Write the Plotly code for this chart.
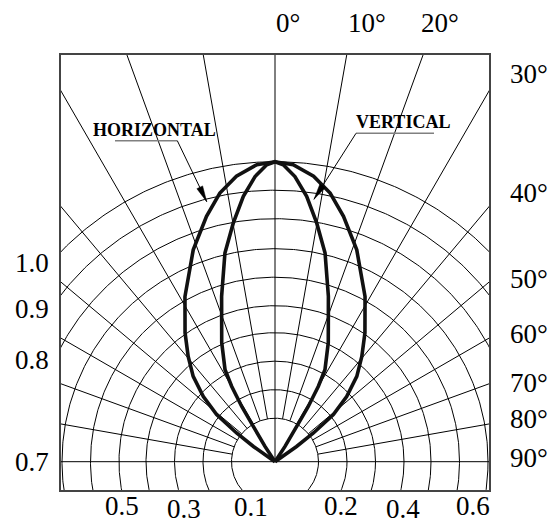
import numpy as np
import plotly.graph_objects as go

# ---------------- data ----------------
ring_radii = [0.145, 0.24, 0.335, 0.43, 0.52, 0.615, 0.71, 0.81, 0.905, 1.0]
ray_angles = [10, 20, 30, 40, 50, 60, 70, 80]          # degrees from vertical, both sides

horiz_angles = [0, 3.5, 7.7, 11.6, 15.6, 21.1, 28.6, 34.9, 39.5, 43.8, 47.7, 51.1, 53.2, 54.8, 55.0]
horiz_values = [1.0, 0.992, 0.96, 0.914, 0.849, 0.757, 0.627, 0.524, 0.455, 0.394, 0.323, 0.25, 0.16, 0.088, 0.0]

vert_angles = [0, 1.6, 4.0, 6.8, 9.9, 13.5, 17.9, 24.1, 28.5, 29.9, 31.05, 31.6, 33.2, 33.5]
vert_values = [1.0, 0.99, 0.953, 0.891, 0.808, 0.715, 0.579, 0.435, 0.349, 0.29, 0.215, 0.138, 0.061, 0.0]

series_names = ["HORIZONTAL", "VERTICAL"]
top_labels = ["0°", "10°", "20°"]
right_labels = ["30°", "40°", "50°", "60°", "70°", "80°", "90°"]
left_labels = ["1.0", "0.9", "0.8", "0.7"]
bottom_labels = ["0.5", "0.3", "0.1", "0.2", "0.4", "0.6"]

# ---------------- layout geometry (pixels) ----------------
W, H = 556, 523
FL, FR, FT, FB = 61, 489, 55, 490
OX, OY = 275, 461.7
S = 300.0  # pixels per unit

def px(xp, yp):
    return (xp - OX) / S, (OY - yp) / S

def paper(xp, yp):
    return (xp - FL) / (FR - FL), (FB - yp) / (FB - FT)

top_pos = [(287.5, 22.5), (367, 22.5), (439.7, 22.5)]
right_pos = [(508.3, 74), (508.3, 192.5), (508.3, 279), (508.3, 334), (508.3, 382.5), (508.3, 419), (508.3, 457.5)]
left_pos = [(31.7, 262.5), (31.7, 309), (31.7, 360), (31.7, 462)]
bottom_pos = [(121.7, 506), (183.7, 508.7), (250.5, 506.5), (340.7, 506), (403.3, 508.7), (473, 506)]

# annotation geometry: text centre, underline start/end, arrow tip (pixels)
ann_geo = [
    dict(text=(154.7, 129.7), ul=((115, 140.7), (177.3, 140.7)), tail=(177.3, 140.7), tip=(206.7, 201.7)),
    dict(text=(402.8, 121.7), ul=((356, 133.3), (434, 133.3)), tail=(356, 133.3), tip=(314, 199.3)),
]

FONT = "Liberation Serif, Times New Roman, serif"
fig = go.Figure()

def line(x, y, color="#000", width=1.0):
    fig.add_trace(go.Scatter(x=x, y=y, mode="lines", line=dict(color=color, width=width),
                             hoverinfo="skip", showlegend=False))

# circles
t = np.linspace(0, 2 * np.pi, 721)
for r in ring_radii:
    line(r * np.cos(t), r * np.sin(t))

# rays (from innermost ring outward)
for a in ray_angles:
    for sgn in (-1, 1):
        th = np.radians(a) * sgn
        r0, r1 = ring_radii[0], 3.0
        line([r0 * np.sin(th), r1 * np.sin(th)], [r0 * np.cos(th), r1 * np.cos(th)])

# vertical axis (0°) and horizontal (90°)
line([0, 0], [0, 3])
line([-3, 3], [0, 0])

# intensity curves (symmetric)
def curve(angles, values):
    a = np.array(angles, float)
    v = np.array(values, float)
    full_a = np.concatenate([-a[::-1], a[1:]])
    full_v = np.concatenate([v[::-1], v[1:]])
    th = np.radians(full_a)
    return full_v * np.sin(th), full_v * np.cos(th)

for angs, vals in ((horiz_angles, horiz_values), (vert_angles, vert_values)):
    cx, cy = curve(angs, vals)
    line(cx, cy, color="#111", width=3.6)

# annotation text, underline, leader, arrowhead
for name, g in zip(series_names, ann_geo):
    tx, ty = paper(*g["text"])
    fig.add_annotation(x=tx, y=ty, xref="paper", yref="paper", text=name, showarrow=False,
                       xanchor="center", yanchor="middle",
                       font=dict(family=FONT, size=18, color="#000", weight="bold"))
    (u0, u1) = g["ul"]
    a0, a1 = px(*u0), px(*u1)
    line([a0[0], a1[0]], [a0[1], a1[1]], color="#808080", width=1.5)
    p0, p1 = px(*g["tail"]), px(*g["tip"])
    line([p0[0], p1[0]], [p0[1], p1[1]], color="#000", width=1.0)
    # arrowhead triangle
    tip = np.array(g["tip"], float)
    tail = np.array(g["tail"], float)
    d = (tip - tail) / np.linalg.norm(tip - tail)
    n = np.array([-d[1], d[0]])
    base = tip - d * 16
    pts = [tip, base + n * 3.2, base - n * 3.2, tip]
    xs, ys = zip(*[px(*p) for p in pts])
    fig.add_trace(go.Scatter(x=xs, y=ys, mode="lines", fill="toself", fillcolor="#000",
                             line=dict(color="#000", width=0.5), hoverinfo="skip", showlegend=False))

def label(text, pos, xanchor="center"):
    x, y = paper(*pos)
    fig.add_annotation(x=x, y=y, xref="paper", yref="paper", text=text, showarrow=False,
                       xanchor=xanchor, yanchor="middle",
                       font=dict(family=FONT, size=27, color="#000"))

for txt, p in zip(top_labels, top_pos):
    label(txt, p)
for txt, p in zip(right_labels, right_pos):
    label(txt, p, xanchor="left")
for txt, p in zip(left_labels, left_pos):
    label(txt, p)
for txt, p in zip(bottom_labels, bottom_pos):
    label(txt, p)

axis_common = dict(showgrid=False, zeroline=False, showticklabels=False, ticks="",
                   showline=True, mirror=True, linecolor="#444", linewidth=1.5)
fig.update_layout(
    width=W, height=H,
    margin=dict(l=FL, r=W - FR, t=FT, b=H - FB),
    paper_bgcolor="white", plot_bgcolor="white",
    xaxis=dict(range=[(FL - OX) / S, (FR - OX) / S], **axis_common),
    yaxis=dict(range=[(OY - FB) / S, (OY - FT) / S], **axis_common),
    showlegend=False,
)
fig.write_html("out.html", config={"displayModeBar": False},
               post_script="document.body.style.margin='0';")
